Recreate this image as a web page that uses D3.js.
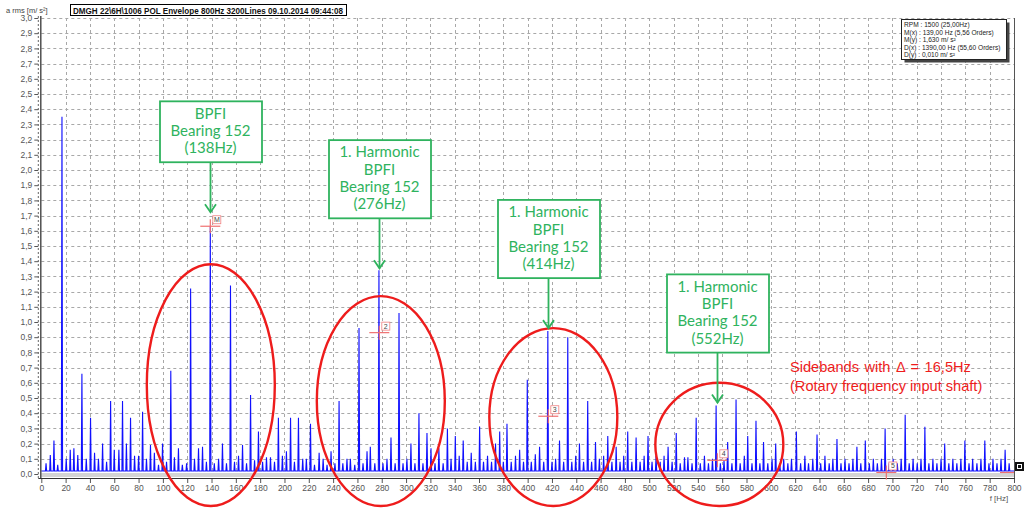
<!DOCTYPE html>
<html>
<head>
<meta charset="utf-8">
<script src="https://cdn.jsdelivr.net/npm/d3@7"></script>
<style>
  body { margin: 0; background: #fff; }
  svg { display: block; }
</style>
</head>
<body>
<svg id="chart" width="1035" height="508"></svg>
<script>
// Envelope spectrum: peak frequencies [Hz] and amplitudes [m/s²]
const peakHz = [
  3.9, 7.4, 10.4, 13.5, 17.0, 20.5, 23.8, 26.8, 30.0, 33.4, 37.0, 40.5, 43.8, 47.0, 50.4, 53.7,
  57.0, 60.0, 63.8, 66.8, 70.0, 73.4, 76.7, 80.0, 83.3, 86.5, 89.8, 93.0, 96.4, 99.7, 103.0,
  106.5, 109.5, 112.8, 116.0, 119.5, 122.8, 126.0, 129.3, 132.6, 135.8, 139.0, 142.3, 145.8,
  149.0, 152.3, 155.6, 158.9, 162.2, 165.5, 168.8, 172.1, 175.4, 178.6, 182.0, 185.2, 188.5,
  191.8, 195.0, 198.3, 201.6, 205.0, 208.2, 211.5, 215.0, 218.0, 221.4, 224.7, 228.5, 231.8,
  235.0, 238.3, 241.5, 244.9, 248.0, 251.4, 254.2, 257.8, 261.3, 264.6, 267.9, 270.6, 274.3,
  277.7, 281.0, 284.3, 287.6, 291.0, 294.2, 297.5, 300.7, 304.0, 307.3, 310.6, 313.9, 317.2,
  320.5, 323.8, 327.0, 330.5, 334.0, 337.0, 340.5, 343.7, 347.0, 350.3, 353.6, 357.0, 360.5,
  363.7, 367.0, 370.3, 373.6, 377.0, 380.0, 383.0, 386.5, 390.0, 393.4, 396.6, 399.7, 403.0,
  406.3, 409.8, 413.2, 416.6, 420.0, 423.0, 426.2, 429.6, 433.0, 436.3, 439.5, 442.6, 446.0,
  449.4, 452.6, 455.8, 459.0, 462.5, 465.9, 469.3, 472.8, 476.0, 479.0, 482.3, 485.7, 489.2,
  492.5, 495.8, 499.0, 502.3, 505.6, 509.0, 512.2, 515.5, 518.8, 522.2, 525.5, 529.0, 531.8,
  535.2, 538.6, 542.0, 545.4, 548.7, 552.0, 555.0, 558.5, 561.5, 564.5, 568.0, 571.4, 574.8,
  578.2, 581.0, 584.5, 587.8, 591.0, 594.0, 597.5, 601.0, 604.0, 607.4, 610.6, 614.0, 617.0,
  621.0, 624.5, 628.0, 631.0, 634.5, 638.0, 641.0, 644.5, 648.0, 651.0, 654.4, 657.7, 661.0,
  664.3, 667.5, 670.8, 674.0, 677.7, 681.0, 684.3, 687.6, 691.0, 694.0, 697.3, 700.6, 704.0,
  707.2, 710.5, 713.8, 717.0, 720.4, 723.5, 726.7, 730.0, 733.3, 736.6, 740.0, 743.0, 746.4,
  749.7, 753.0, 756.3, 759.6, 763.0, 766.0, 769.5, 772.8, 776.0, 779.4, 782.7, 786.0, 789.3,
  792.7, 796.0
];
const peakAmp = [
  0.07, 0.125, 0.22, 0.06, 2.35, 0.10, 0.16, 0.17, 0.125, 0.66, 0.10, 0.37, 0.14, 0.10, 0.20, 0.08,
  0.48, 0.16, 0.16, 0.48, 0.20, 0.37, 0.12, 0.12, 0.41, 0.10, 0.19, 0.14, 0.06, 0.20, 0.08,
  0.68, 0.11, 0.17, 0.06, 0.07, 1.22, 0.10, 0.17, 0.18, 0.08, 1.63, 0.07, 0.10,
  0.20, 0.07, 1.24, 0.08, 0.12, 0.19, 0.07, 0.52, 0.09, 0.28, 0.08, 0.11, 0.11,
  0.08, 0.37, 0.12, 0.15, 0.37, 0.08, 0.37, 0.10, 0.10, 0.33, 0.06, 0.14, 0.10,
  0.06, 0.15, 0.07, 0.48, 0.07, 0.10, 0.10, 0.06, 0.96, 0.07, 0.15, 0.18, 0.07,
  1.34, 0.07, 0.10, 0.24, 0.07, 1.06, 0.07, 0.10, 0.20, 0.07, 0.40, 0.07, 0.27,
  0.17, 0.07, 0.17, 0.07, 0.30, 0.10, 0.25, 0.12, 0.22, 0.08, 0.14, 0.08, 0.31,
  0.08, 0.12, 0.08, 0.20, 0.28, 0.08, 0.33, 0.08, 0.12, 0.16, 0.08, 0.62, 0.08,
  0.13, 0.18, 0.08, 0.94, 0.08, 0.10, 0.22, 0.08, 0.90, 0.08, 0.12, 0.20, 0.08,
  0.48, 0.08, 0.21, 0.10, 0.12, 0.25, 0.08, 0.18, 0.08, 0.12, 0.28, 0.08, 0.24,
  0.08, 0.12, 0.25, 0.08, 0.12, 0.08, 0.12, 0.18, 0.08, 0.27, 0.07, 0.11, 0.11,
  0.07, 0.37, 0.07, 0.12, 0.07, 0.10, 0.45, 0.07, 0.09, 0.21, 0.07, 0.49, 0.07,
  0.12, 0.25, 0.07, 0.35, 0.07, 0.21, 0.07, 0.10, 0.20, 0.07, 0.10, 0.07, 0.10,
  0.28, 0.07, 0.12, 0.07, 0.10, 0.26, 0.07, 0.12, 0.07, 0.10, 0.23, 0.07, 0.10,
  0.07, 0.10, 0.18, 0.07, 0.22, 0.07, 0.10, 0.07, 0.10, 0.30, 0.07, 0.10, 0.07,
  0.10, 0.39, 0.07, 0.10, 0.07, 0.10, 0.31, 0.07, 0.10, 0.07, 0.10, 0.20, 0.07,
  0.10, 0.07, 0.10, 0.22, 0.07, 0.10, 0.07, 0.10, 0.22, 0.07, 0.10, 0.07, 0.10,
  0.16, 0.07
];
const noiseFloor = 0.02;

// Axis ticks
const xTicks = d3.range(0, 801, 20);
const yTicks = d3.range(0, 31).map(i => i / 10);

// Cursor markers (harmonics of BPFI) and the delta cursor
const markerHz = [139, 278, 417, 556, 695];
const markerAmp = [1.63, 0.93, 0.38, 0.09, 0.01];
const markerNames = ["M", "2", "3", "4", "5"];

// Callouts for the BPFI family
const calloutHz = [139, 278, 417, 556];
const calloutLines = [
  ["BPFI", "Bearing 152", "(138Hz)"],
  ["1. Harmonic", "BPFI", "Bearing 152", "(276Hz)"],
  ["1. Harmonic", "BPFI", "Bearing 152", "(414Hz)"],
  ["1. Harmonic", "BPFI", "Bearing 152", "(552Hz)"]
];

const titleText = "DMGH 22\\6H\\1006 POL Envelope 800Hz 3200Lines 09.10.2014 09:44:08";
const yAxisTitle = "a rms [m/ s²]";
const xAxisTitle = "f [Hz]";
const infoLines = [
  "RPM : 1500 (25,00Hz)",
  "M(x) : 139,00 Hz (5,56 Orders)",
  "M(y) : 1,630 m/ s²",
  "D(x) : 1390,00 Hz (55,60 Orders)",
  "D(y) : 0,010 m/ s²"
];
const sidebandNote = ["Sidebands  with \u0394 = 16,5Hz", "(Rotary frequency input shaft)"];

// ---------------------------------------------------------------
const svg = d3.select("#chart");
const plotL = 41.3, plotR = 1014, plotT = 18, plotB = 474;
const x = d3.scaleLinear().domain([0, 800]).range([plotL, plotR]);
const y = d3.scaleLinear().domain([0, 3]).range([plotB, plotT]);
const fmt = v => d3.format(".1f")(v).replace(".", ",");

const GREEN = "#2fb35e";
const RED = "#ee1c1c";
const SANS = "Liberation Sans, Arial, sans-serif";

// grid
const grid = svg.append("g").attr("stroke", "#a8a8a8").attr("stroke-dasharray", "3,3").attr("stroke-width", 1);
grid.selectAll("line.h").data(yTicks.slice(1)).join("line").attr("class", "h")
  .attr("x1", plotL).attr("x2", plotR)
  .attr("y1", d => Math.round(y(d)) + 0.5).attr("y2", d => Math.round(y(d)) + 0.5);
grid.selectAll("line.v").data(xTicks.slice(1)).join("line").attr("class", "v")
  .attr("y1", plotT).attr("y2", plotB)
  .attr("x1", d => Math.round(x(d)) + 0.5).attr("x2", d => Math.round(x(d)) + 0.5);

// baseline band under the spectrum
svg.append("rect").attr("x", plotL).attr("y", plotB - 1).attr("width", plotR - plotL).attr("height", 4)
  .attr("fill", "#d4d4d4");

// spectrum
const order = d3.range(peakHz.length).sort((a, b) => peakHz[a] - peakHz[b]);
const pts = [[0, noiseFloor]];
order.forEach(i => {
  const f = peakHz[i], a = peakAmp[i];
  pts.push([f - 0.5, noiseFloor], [f, a], [f + 0.5, noiseFloor]);
});
pts.push([800, noiseFloor]);
svg.append("path")
  .datum(pts)
  .attr("fill", "none")
  .attr("stroke", "#1010ff")
  .attr("stroke-width", 1.1)
  .attr("d", d3.line().x(d => x(d[0])).y(d => y(d[1])));

// axes frame
svg.append("line").attr("x1", plotL - 0.5).attr("x2", plotL - 0.5).attr("y1", plotT - 2).attr("y2", plotB + 5)
  .attr("stroke", "#444").attr("stroke-width", 1.4);
svg.append("line").attr("x1", plotL - 3).attr("x2", plotL - 3).attr("y1", plotT - 2).attr("y2", plotB + 5)
  .attr("stroke", "#666").attr("stroke-dasharray", "2,2");
svg.append("line").attr("x1", plotR + 0.5).attr("x2", plotR + 0.5).attr("y1", plotT).attr("y2", plotB + 4)
  .attr("stroke", "#555");
svg.append("line").attr("x1", plotL - 3).attr("x2", plotR + 1).attr("y1", plotB + 4.5).attr("y2", plotB + 4.5)
  .attr("stroke", "#333").attr("stroke-width", 1.2);

// y axis
const yAxis = d3.axisLeft(y).tickValues(yTicks).tickFormat(fmt).tickSize(4).tickPadding(2);
const gy = svg.append("g").attr("transform", `translate(${plotL - 3},0)`).call(yAxis);
gy.select(".domain").remove();
gy.selectAll("text").attr("font-family", SANS).attr("font-size", 8.5).attr("fill", "#555");
gy.selectAll("line").attr("stroke", "#555");

// x axis
const xAxis = d3.axisBottom(x).tickValues(xTicks).tickFormat(d3.format("d")).tickSize(4).tickPadding(2);
const gx = svg.append("g").attr("transform", `translate(0,${plotB + 5})`).call(xAxis);
gx.select(".domain").remove();
gx.selectAll("text").attr("font-family", SANS).attr("font-size", 8.5).attr("fill", "#555");
gx.selectAll("line").attr("stroke", "#555");

svg.append("text").attr("x", 999).attr("y", 501).attr("text-anchor", "middle")
  .attr("font-family", SANS).attr("font-size", 8).attr("fill", "#555")
  .text(xAxisTitle);
svg.append("text").attr("x", 6).attr("y", 13)
  .attr("font-family", SANS).attr("font-size", 7.5).attr("fill", "#444")
  .text(yAxisTitle);

// title box
svg.append("rect").attr("x", 70.5).attr("y", 4.5).attr("width", 276).attr("height", 11)
  .attr("fill", "#fff").attr("stroke", "#000");
svg.append("text").attr("x", 73).attr("y", 13.5)
  .attr("font-family", SANS).attr("font-size", 8.5).attr("font-weight", "bold")
  .attr("fill", "#111").attr("textLength", 270).attr("lengthAdjust", "spacingAndGlyphs")
  .text(titleText);

// info box
svg.append("rect").attr("x", 904.5).attr("y", 22.5).attr("width", 105).attr("height", 40).attr("fill", "#444");
svg.append("rect").attr("x", 901.5).attr("y", 19.5).attr("width", 105).attr("height", 40)
  .attr("fill", "#fff").attr("stroke", "#222");
svg.append("g").selectAll("text").data(infoLines).join("text")
  .attr("x", 904).attr("y", (d, i) => 27 + i * 7.6)
  .attr("font-family", SANS).attr("font-size", 6.6).attr("fill", "#222")
  .text(d => d);

// markers
const mk = svg.append("g");
markerHz.forEach((f, i) => {
  const cx = x(f), cy = y(markerAmp[i]);
  mk.append("line").attr("x1", cx - 10).attr("x2", cx + 10).attr("y1", cy).attr("y2", cy)
    .attr("stroke", "#f07070").attr("stroke-width", 1.2);
  mk.append("line").attr("x1", cx).attr("x2", cx).attr("y1", cy - 7).attr("y2", cy + 7)
    .attr("stroke", "#f07070").attr("stroke-width", 1.2);
  mk.append("rect").attr("x", cx + 2.5).attr("y", cy - 10.5).attr("width", 8).attr("height", 8)
    .attr("fill", "#fff").attr("stroke", "#f08080").attr("stroke-width", 0.8);
  mk.append("text").attr("x", cx + 6.5).attr("y", cy - 4).attr("text-anchor", "middle")
    .attr("font-family", SANS).attr("font-size", 7).attr("fill", "#444")
    .text(markerNames[i]);
});

// delta cursor at the right edge
svg.append("line").attr("x1", plotR - 14).attr("x2", plotR).attr("y1", y(0.01)).attr("y2", y(0.01))
  .attr("stroke", "#f07070").attr("stroke-width", 1.2);
svg.append("rect").attr("x", plotR + 1).attr("y", 462).attr("width", 9).attr("height", 9).attr("fill", "#111");
svg.append("rect").attr("x", plotR + 3.5).attr("y", 464.5).attr("width", 4).attr("height", 4)
  .attr("fill", "none").attr("stroke", "#fff").attr("stroke-width", 1);

// red ellipses around the sideband families
const ringDx = [0.5, 1.5, 5, 2];
const ringTop = [1.38, 1.17, 0.96, 0.6];
calloutHz.forEach((f, i) => {
  const cx = x(f) + ringDx[i];
  const ty = y(ringTop[i]), by = 506;
  svg.append("ellipse").attr("cx", cx).attr("cy", (ty + by) / 2)
    .attr("rx", 64).attr("ry", (by - ty) / 2)
    .attr("fill", "none").attr("stroke", RED).attr("stroke-width", 2.4);
});

// callout boxes with arrows
const tipGap = [14, 2, 3, 3];
calloutHz.forEach((f, i) => {
  const j = d3.minIndex(peakHz, h => Math.abs(h - f));
  const ax = Math.round(x(f)) + 0.5;
  const tip = y(peakAmp[j]) - tipGap[i];
  const arrowTop = tip - 50;
  const lines = calloutLines[i];
  const g = svg.append("g");
  const txt = g.selectAll("text").data(lines).join("text")
    .attr("x", ax).attr("text-anchor", "middle")
    .attr("y", (d, k) => arrowTop - 9 - (lines.length - 1 - k) * 17.3)
    .attr("font-family", "Lato, 'Open Sans', sans-serif").attr("font-size", 15).attr("fill", GREEN)
    .text(d => d);
  let w = 0;
  txt.each(function () { w = Math.max(w, this.getComputedTextLength()); });
  const bw = Math.round(w + 22), bh = lines.length * 17.3 + 9;
  g.insert("rect", "text").attr("x", Math.round(ax - bw / 2)).attr("y", arrowTop - bh)
    .attr("width", bw).attr("height", bh).attr("fill", "#fff").attr("stroke", GREEN).attr("stroke-width", 1.8);
  g.append("line").attr("x1", ax).attr("x2", ax).attr("y1", arrowTop).attr("y2", tip)
    .attr("stroke", GREEN).attr("stroke-width", 1.8);
  g.append("path").attr("d", `M${ax - 5.5},${tip - 8} L${ax},${tip} L${ax + 5.5},${tip - 8}`)
    .attr("fill", "none").attr("stroke", GREEN).attr("stroke-width", 1.8);
});

// sideband note
svg.append("g").selectAll("text").data(sidebandNote).join("text")
  .attr("x", 790).attr("y", (d, i) => 372 + i * 18.5)
  .attr("font-family", SANS).attr("font-size", 14.6).attr("fill", RED)
  .attr("word-spacing", (d, i) => i === 0 ? 1.5 : 0)
  .text(d => d);
</script>
</body>
</html>
